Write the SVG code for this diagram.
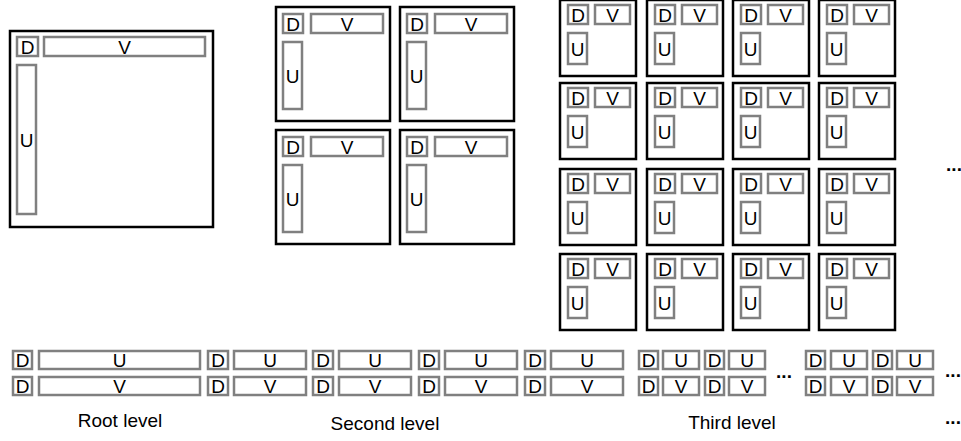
<svg xmlns="http://www.w3.org/2000/svg" width="961" height="441" viewBox="0 0 961 441">
<style>
.b{fill:#fff;stroke:#000;stroke-width:2.5}
.g{fill:#fff;stroke:#808080;stroke-width:2.5}
text{font-family:"Liberation Sans",Arial,sans-serif;font-size:19px;fill:#000;text-anchor:middle}
.e{font-weight:bold}
</style>
<rect width="961" height="441" fill="#fff"/>
<g id="root">
<rect class="b" x="10" y="31" width="203" height="196"/>
<rect class="g" x="17" y="37" width="21" height="19"/><text x="27.5" y="53.5">D</text>
<rect class="g" x="44" y="37" width="161" height="19"/><text x="124.5" y="53.5">V</text>
<rect class="g" x="17" y="65" width="19" height="149"/><text x="26.5" y="146.5">U</text>
</g>
<g id="second-1" transform="translate(275,6)">
<rect class="b" x="1" y="1" width="114" height="114"/>
<rect class="g" x="8" y="8" width="20" height="19"/><text x="18" y="24.5">D</text>
<rect class="g" x="36" y="8" width="72" height="19"/><text x="72" y="24.5">V</text>
<rect class="g" x="8" y="36" width="19" height="67"/><text x="17.5" y="76.5">U</text>
</g>
<g id="second-2" transform="translate(399,6)">
<rect class="b" x="1" y="1" width="114" height="114"/>
<rect class="g" x="8" y="8" width="20" height="19"/><text x="18" y="24.5">D</text>
<rect class="g" x="36" y="8" width="72" height="19"/><text x="72" y="24.5">V</text>
<rect class="g" x="8" y="36" width="19" height="67"/><text x="17.5" y="76.5">U</text>
</g>
<g id="second-3" transform="translate(275,129)">
<rect class="b" x="1" y="1" width="114" height="114"/>
<rect class="g" x="8" y="8" width="20" height="19"/><text x="18" y="24.5">D</text>
<rect class="g" x="36" y="8" width="72" height="19"/><text x="72" y="24.5">V</text>
<rect class="g" x="8" y="36" width="19" height="67"/><text x="17.5" y="76.5">U</text>
</g>
<g id="second-4" transform="translate(399,129)">
<rect class="b" x="1" y="1" width="114" height="114"/>
<rect class="g" x="8" y="8" width="20" height="19"/><text x="18" y="24.5">D</text>
<rect class="g" x="36" y="8" width="72" height="19"/><text x="72" y="24.5">V</text>
<rect class="g" x="8" y="36" width="19" height="67"/><text x="17.5" y="76.5">U</text>
</g>
<g id="third-1-1" transform="translate(559,-1)"><rect class="b" x="1" y="1" width="76" height="76"/><rect class="g" x="9" y="6" width="20" height="19"/><text x="19" y="22.5">D</text><rect class="g" x="36" y="6" width="35" height="19"/><text x="53.5" y="22.5">V</text><rect class="g" x="9" y="34" width="19" height="31"/><text x="18.5" y="56.5">U</text></g>
<g id="third-1-2" transform="translate(646,-1)"><rect class="b" x="1" y="1" width="76" height="76"/><rect class="g" x="9" y="6" width="20" height="19"/><text x="19" y="22.5">D</text><rect class="g" x="36" y="6" width="35" height="19"/><text x="53.5" y="22.5">V</text><rect class="g" x="9" y="34" width="19" height="31"/><text x="18.5" y="56.5">U</text></g>
<g id="third-1-3" transform="translate(732,-1)"><rect class="b" x="1" y="1" width="76" height="76"/><rect class="g" x="9" y="6" width="20" height="19"/><text x="19" y="22.5">D</text><rect class="g" x="36" y="6" width="35" height="19"/><text x="53.5" y="22.5">V</text><rect class="g" x="9" y="34" width="19" height="31"/><text x="18.5" y="56.5">U</text></g>
<g id="third-1-4" transform="translate(818,-1)"><rect class="b" x="1" y="1" width="76" height="76"/><rect class="g" x="9" y="6" width="20" height="19"/><text x="19" y="22.5">D</text><rect class="g" x="36" y="6" width="35" height="19"/><text x="53.5" y="22.5">V</text><rect class="g" x="9" y="34" width="19" height="31"/><text x="18.5" y="56.5">U</text></g>
<g id="third-2-1" transform="translate(559,82)"><rect class="b" x="1" y="1" width="76" height="76"/><rect class="g" x="9" y="6" width="20" height="19"/><text x="19" y="22.5">D</text><rect class="g" x="36" y="6" width="35" height="19"/><text x="53.5" y="22.5">V</text><rect class="g" x="9" y="34" width="19" height="31"/><text x="18.5" y="56.5">U</text></g>
<g id="third-2-2" transform="translate(646,82)"><rect class="b" x="1" y="1" width="76" height="76"/><rect class="g" x="9" y="6" width="20" height="19"/><text x="19" y="22.5">D</text><rect class="g" x="36" y="6" width="35" height="19"/><text x="53.5" y="22.5">V</text><rect class="g" x="9" y="34" width="19" height="31"/><text x="18.5" y="56.5">U</text></g>
<g id="third-2-3" transform="translate(732,82)"><rect class="b" x="1" y="1" width="76" height="76"/><rect class="g" x="9" y="6" width="20" height="19"/><text x="19" y="22.5">D</text><rect class="g" x="36" y="6" width="35" height="19"/><text x="53.5" y="22.5">V</text><rect class="g" x="9" y="34" width="19" height="31"/><text x="18.5" y="56.5">U</text></g>
<g id="third-2-4" transform="translate(818,82)"><rect class="b" x="1" y="1" width="76" height="76"/><rect class="g" x="9" y="6" width="20" height="19"/><text x="19" y="22.5">D</text><rect class="g" x="36" y="6" width="35" height="19"/><text x="53.5" y="22.5">V</text><rect class="g" x="9" y="34" width="19" height="31"/><text x="18.5" y="56.5">U</text></g>
<g id="third-3-1" transform="translate(559,168)"><rect class="b" x="1" y="1" width="76" height="76"/><rect class="g" x="9" y="6" width="20" height="19"/><text x="19" y="22.5">D</text><rect class="g" x="36" y="6" width="35" height="19"/><text x="53.5" y="22.5">V</text><rect class="g" x="9" y="34" width="19" height="31"/><text x="18.5" y="56.5">U</text></g>
<g id="third-3-2" transform="translate(646,168)"><rect class="b" x="1" y="1" width="76" height="76"/><rect class="g" x="9" y="6" width="20" height="19"/><text x="19" y="22.5">D</text><rect class="g" x="36" y="6" width="35" height="19"/><text x="53.5" y="22.5">V</text><rect class="g" x="9" y="34" width="19" height="31"/><text x="18.5" y="56.5">U</text></g>
<g id="third-3-3" transform="translate(732,168)"><rect class="b" x="1" y="1" width="76" height="76"/><rect class="g" x="9" y="6" width="20" height="19"/><text x="19" y="22.5">D</text><rect class="g" x="36" y="6" width="35" height="19"/><text x="53.5" y="22.5">V</text><rect class="g" x="9" y="34" width="19" height="31"/><text x="18.5" y="56.5">U</text></g>
<g id="third-3-4" transform="translate(818,168)"><rect class="b" x="1" y="1" width="76" height="76"/><rect class="g" x="9" y="6" width="20" height="19"/><text x="19" y="22.5">D</text><rect class="g" x="36" y="6" width="35" height="19"/><text x="53.5" y="22.5">V</text><rect class="g" x="9" y="34" width="19" height="31"/><text x="18.5" y="56.5">U</text></g>
<g id="third-4-1" transform="translate(559,253)"><rect class="b" x="1" y="1" width="76" height="76"/><rect class="g" x="9" y="6" width="20" height="19"/><text x="19" y="22.5">D</text><rect class="g" x="36" y="6" width="35" height="19"/><text x="53.5" y="22.5">V</text><rect class="g" x="9" y="34" width="19" height="31"/><text x="18.5" y="56.5">U</text></g>
<g id="third-4-2" transform="translate(646,253)"><rect class="b" x="1" y="1" width="76" height="76"/><rect class="g" x="9" y="6" width="20" height="19"/><text x="19" y="22.5">D</text><rect class="g" x="36" y="6" width="35" height="19"/><text x="53.5" y="22.5">V</text><rect class="g" x="9" y="34" width="19" height="31"/><text x="18.5" y="56.5">U</text></g>
<g id="third-4-3" transform="translate(732,253)"><rect class="b" x="1" y="1" width="76" height="76"/><rect class="g" x="9" y="6" width="20" height="19"/><text x="19" y="22.5">D</text><rect class="g" x="36" y="6" width="35" height="19"/><text x="53.5" y="22.5">V</text><rect class="g" x="9" y="34" width="19" height="31"/><text x="18.5" y="56.5">U</text></g>
<g id="third-4-4" transform="translate(818,253)"><rect class="b" x="1" y="1" width="76" height="76"/><rect class="g" x="9" y="6" width="20" height="19"/><text x="19" y="22.5">D</text><rect class="g" x="36" y="6" width="35" height="19"/><text x="53.5" y="22.5">V</text><rect class="g" x="9" y="34" width="19" height="31"/><text x="18.5" y="56.5">U</text></g>
<text class="e" x="954" y="171">...</text>
<g id="storage-root">
<rect class="g" x="13" y="351" width="19" height="18"/><text x="22.5" y="367">D</text>
<rect class="g" x="39" y="351" width="161" height="18"/><text x="119.5" y="367">U</text>
<rect class="g" x="13" y="377" width="19" height="18"/><text x="22.5" y="393">D</text>
<rect class="g" x="39" y="377" width="161" height="18"/><text x="119.5" y="393">V</text>
</g>
<g id="storage-second">
<rect class="g" x="208" y="351" width="20" height="18"/><text x="218" y="367">D</text>
<rect class="g" x="234" y="351" width="72" height="18"/><text x="270" y="367">U</text>
<rect class="g" x="208" y="377" width="20" height="18"/><text x="218" y="393">D</text>
<rect class="g" x="234" y="377" width="72" height="18"/><text x="270" y="393">V</text>
<rect class="g" x="313" y="351" width="20" height="18"/><text x="323" y="367">D</text>
<rect class="g" x="339" y="351" width="72" height="18"/><text x="375" y="367">U</text>
<rect class="g" x="313" y="377" width="20" height="18"/><text x="323" y="393">D</text>
<rect class="g" x="339" y="377" width="72" height="18"/><text x="375" y="393">V</text>
<rect class="g" x="419" y="351" width="20" height="18"/><text x="429" y="367">D</text>
<rect class="g" x="445" y="351" width="72" height="18"/><text x="481" y="367">U</text>
<rect class="g" x="419" y="377" width="20" height="18"/><text x="429" y="393">D</text>
<rect class="g" x="445" y="377" width="72" height="18"/><text x="481" y="393">V</text>
<rect class="g" x="525" y="351" width="20" height="18"/><text x="535" y="367">D</text>
<rect class="g" x="551" y="351" width="72" height="18"/><text x="587" y="367">U</text>
<rect class="g" x="525" y="377" width="20" height="18"/><text x="535" y="393">D</text>
<rect class="g" x="551" y="377" width="72" height="18"/><text x="587" y="393">V</text>
</g>
<g id="storage-third">
<rect class="g" x="639" y="351" width="19" height="18"/><text x="648.5" y="367">D</text>
<rect class="g" x="663" y="351" width="36" height="18"/><text x="681" y="367">U</text>
<rect class="g" x="705" y="351" width="19" height="18"/><text x="714.5" y="367">D</text>
<rect class="g" x="729" y="351" width="36" height="18"/><text x="747" y="367">U</text>
<rect class="g" x="639" y="377" width="19" height="18"/><text x="648.5" y="393">D</text>
<rect class="g" x="663" y="377" width="36" height="18"/><text x="681" y="393">V</text>
<rect class="g" x="705" y="377" width="19" height="18"/><text x="714.5" y="393">D</text>
<rect class="g" x="729" y="377" width="36" height="18"/><text x="747" y="393">V</text>
<text class="e" x="784" y="378">...</text>
<rect class="g" x="806" y="351" width="19" height="18"/><text x="815.5" y="367">D</text>
<rect class="g" x="831" y="351" width="36" height="18"/><text x="849" y="367">U</text>
<rect class="g" x="873" y="351" width="19" height="18"/><text x="882.5" y="367">D</text>
<rect class="g" x="897" y="351" width="36" height="18"/><text x="915" y="367">U</text>
<rect class="g" x="806" y="377" width="19" height="18"/><text x="815.5" y="393">D</text>
<rect class="g" x="831" y="377" width="36" height="18"/><text x="849" y="393">V</text>
<rect class="g" x="873" y="377" width="19" height="18"/><text x="882.5" y="393">D</text>
<rect class="g" x="897" y="377" width="36" height="18"/><text x="915" y="393">V</text>
<text class="e" x="953" y="377">...</text>
</g>
<g id="labels">
<text x="120" y="427">Root level</text>
<text x="385" y="430">Second level</text>
<text x="732" y="429">Third level</text>
<text class="e" x="953" y="424">...</text>
</g>
</svg>
